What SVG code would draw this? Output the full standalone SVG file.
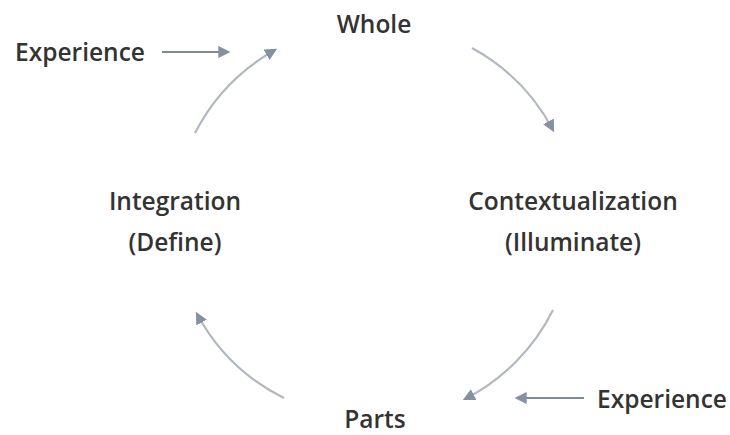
<svg xmlns="http://www.w3.org/2000/svg" width="730" height="435" viewBox="0 0 730 435">
<style>
text{font-family:"Open Sans","Liberation Sans",sans-serif;font-size:24.5px;font-weight:600;fill:#333;text-anchor:middle}
.arc{fill:none;stroke:#b3b8c0;stroke-width:2.2}
.in{fill:none;stroke:#7d8a9a;stroke-width:2.2}
</style>
<defs>
<marker id="ah" viewBox="0 0 10 10" refX="8" refY="5" markerWidth="5.5" markerHeight="5.5" orient="auto" markerUnits="strokeWidth">
<path d="M0,0 L10,5 L0,10 z" fill="#8591a0"/>
</marker>
</defs>
<rect width="730" height="435" fill="#fff"/>
<g id="connectors">
<path class="arc" d="M195,133 A200,200 0 0 1 275,50" marker-end="url(#ah)"/>
<path class="arc" d="M472,48 A200,200 0 0 1 553,130" marker-end="url(#ah)"/>
<path class="arc" d="M553,310 A200,200 0 0 1 465,399" marker-end="url(#ah)"/>
<path class="arc" d="M284,398 A200,200 0 0 1 197,314" marker-end="url(#ah)"/>
<path class="in" d="M162,52 L228,52" marker-end="url(#ah)"/>
<path class="in" d="M584,398 L517,398" marker-end="url(#ah)"/>
</g>
<g id="whole"><text x="374" y="33">Whole</text></g>
<g id="contextualization"><text x="573" y="210">Contextualization</text><text x="573" y="251">(Illuminate)</text></g>
<g id="parts"><text x="375" y="428">Parts</text></g>
<g id="integration"><text x="175" y="210">Integration</text><text x="175" y="251">(Define)</text></g>
<g id="experience-top"><text x="80" y="61">Experience</text></g>
<g id="experience-bottom"><text x="662" y="408">Experience</text></g>
</svg>
